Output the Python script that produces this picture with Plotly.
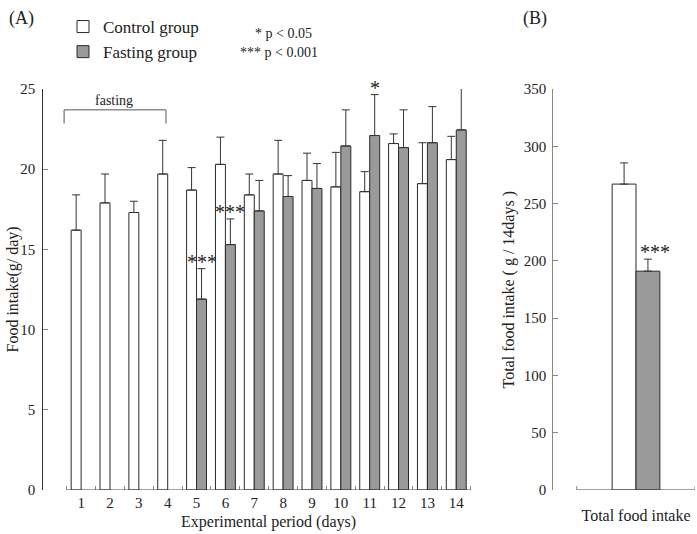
import plotly.graph_objects as go

# ---------------- data ----------------
days = list(range(1, 15))
day_labels = [str(d) for d in days]
control = [16.2, 17.9, 17.3, 19.7, 18.7, 20.3, 18.4, 19.7, 19.3, 18.9, 18.6, 21.6, 19.1, 20.6]
control_err = [2.2, 1.8, 0.7, 2.1, 1.4, 1.7, 1.3, 2.1, 1.7, 2.15, 1.25, 0.6, 2.55, 1.45]
fasting = [None, None, None, None, 11.9, 15.3, 17.4, 18.3, 18.8, 21.45, 22.1, 21.35, 21.65, 22.45]
fasting_err = [None, None, None, None, 1.9, 1.6, 1.9, 1.3, 1.55, 2.25, 2.55, 2.35, 2.25, 2.95]

sig_days = [5, 6, 11]
sig_marks = ["***", "***", "*"]

total_labels = ["Total food intake"]
total_control = [267]
total_control_err = [18.5]
total_fasting = [191]
total_fasting_err = [10.5]
total_sig = ["***"]

fasting_period = [1, 4]

# ---------------- styles ----------------
FONT = "Liberation Serif"
W, H = 697, 534
ML, MR, MT, MB = 0, 0, 89, 44
PLOT_H = H - MT - MB
WHITE = "#ffffff"
GRAY = "#9a9a9a"
EDGE = "#2a2a2a"
ERR = "#333333"


def px_x(p):
    return p / W


def px_y(p):
    return (H - MB - p) / PLOT_H


fig = go.Figure()

fig.add_trace(go.Bar(
    x=days, y=control, name="Control group",
    marker=dict(color=WHITE, line=dict(color=EDGE, width=1)),
    error_y=dict(type="data", array=control_err, arrayminus=[0] * len(days), symmetric=False,
                 color=ERR, thickness=1, width=4),
    xaxis="x", yaxis="y", legendrank=1,
))
fig.add_trace(go.Bar(
    x=days, y=fasting, name="Fasting group",
    marker=dict(color=GRAY, line=dict(color=EDGE, width=1)),
    error_y=dict(type="data", array=fasting_err, arrayminus=[0] * len(days), symmetric=False,
                 color=ERR, thickness=1, width=4),
    xaxis="x", yaxis="y", legendrank=2,
))
fig.add_trace(go.Bar(
    x=total_labels, y=total_control, name="Control group", showlegend=False,
    marker=dict(color=WHITE, line=dict(color=EDGE, width=1)),
    error_y=dict(type="data", array=total_control_err, arrayminus=[0], symmetric=False,
                 color=ERR, thickness=1, width=4),
    xaxis="x2", yaxis="y2",
))
fig.add_trace(go.Bar(
    x=total_labels, y=total_fasting, name="Fasting group", showlegend=False,
    marker=dict(color=GRAY, line=dict(color=EDGE, width=1)),
    error_y=dict(type="data", array=total_fasting_err, arrayminus=[0], symmetric=False,
                 color=ERR, thickness=1, width=4),
    xaxis="x2", yaxis="y2",
))

n = len(days)
# panel A geometry (pixels)
a_left, a_xstart, a_right = 43.3, 66.7, 470.7
cat_px = (a_right - a_xstart) / n
a_range = [0.5 - (a_xstart - a_left) / cat_px, n + 0.5]
# panel B geometry
b_left, b_right = 553.3, 695.0
bargap = 0.31
b_unit = 47.7 / (1 - bargap)
b_center = 636.0
b_range = [(b_left - b_center) / b_unit, (b_right - b_center) / b_unit]
b_line = [(576.7 - b_center) / b_unit, b_range[1]]

axis_font = dict(family=FONT, size=15, color="#222")

fig.update_layout(
    width=W, height=H,
    margin=dict(l=ML, r=MR, t=MT, b=MB, autoexpand=False),
    paper_bgcolor="white", plot_bgcolor="white",
    barmode="group", bargap=bargap, bargroupgap=0,
    font=dict(family=FONT, size=15, color="#222"),
    showlegend=True,
    legend=dict(x=px_x(63), y=px_y(9), xanchor="left", yanchor="top",
                font=dict(family=FONT, size=17, color="#222"),
                bgcolor="rgba(0,0,0,0)", itemclick=False, tracegroupgap=2),
    xaxis=dict(domain=[px_x(a_left), px_x(a_right)], range=a_range, anchor="y",
               tickmode="array", tickvals=days, ticktext=day_labels, ticks="",
               showline=False, showgrid=False, zeroline=False, tickfont=axis_font,
               ticklabelstandoff=2, automargin=False,
               minor=dict(tickmode="array", tickvals=[d + 0.5 for d in [0] + days],
                          ticks="inside", ticklen=4, tickcolor="#888", showgrid=False)),
    yaxis=dict(domain=[0, 1], range=[0, 25], anchor="x", dtick=5, automargin=False,
               ticks="inside", ticklen=5, tickcolor="#888", showline=True, linecolor="#333",
               linewidth=1, showgrid=False, zeroline=False, tickfont=axis_font,
               ticklabelstandoff=4),
    xaxis2=dict(domain=[px_x(b_left), px_x(b_right)], range=b_range, anchor="y2",
                type="category", ticks="", showline=False, showgrid=False, zeroline=False,
                automargin=False,
                tickfont=dict(family=FONT, size=16, color="#222"), ticklabelstandoff=14),
    yaxis2=dict(domain=[0, 1], range=[0, 350], anchor="x2", dtick=50, automargin=False,
                ticks="inside", ticklen=5, tickcolor="#888", showline=True, linecolor="#888",
                linewidth=1, showgrid=False, zeroline=False, tickfont=axis_font,
                ticklabelstandoff=3),
)

shapes = [
    # x axis line panel A
    dict(type="line", xref="x", yref="y", x0=0.5, x1=n + 0.5, y0=0, y1=0,
         line=dict(color="#444", width=1)),
    # x axis line panel B
    dict(type="line", xref="x2", yref="y2", x0=b_line[0], x1=b_line[1], y0=0, y1=0,
         line=dict(color="#444", width=1)),
    dict(type="line", xref="x2", yref="y2", x0=b_line[0], x1=b_line[0], y0=0, y1=3.5,
         line=dict(color="#888", width=1)),
    dict(type="line", xref="x2", yref="y2", x0=b_line[1], x1=b_line[1], y0=0, y1=3.5,
         line=dict(color="#888", width=1)),
    # fasting bracket
    dict(type="path", xref="x", yref="y",
         path=f"M {fasting_period[0] - 0.59},22.85 L {fasting_period[0] - 0.59},23.7 "
              f"L {fasting_period[1] - 0.06},23.7 L {fasting_period[1] - 0.06},22.85",
         line=dict(color="#555", width=1)),
]
fig.update_layout(shapes=shapes)


def txt(text, x, y, size=16, xanchor="center", **kw):
    d = dict(text=text, x=x, y=y, xref="paper", yref="paper", xanchor=xanchor,
             yanchor="middle", showarrow=False, font=dict(family=FONT, size=size, color="#222"))
    d.update(kw)
    return d


ann = [
    txt("(A)", px_x(21), px_y(18), size=18),
    txt("(B)", px_x(535), px_y(18), size=18),
    txt("* p < 0.05", px_x(253), px_y(33), size=14, xanchor="left"),
    txt("*** p < 0.001", px_x(238), px_y(52), size=14, xanchor="left"),
    txt("Experimental period (days)", px_x(268), px_y(522), size=16),
    txt("Food intake(g/ day)", px_x(12), 0.5, size=16, textangle=-90),
    txt("Total food intake ( g / 14days )", px_x(508), 0.5, size=16, textangle=-90),
]
ann.append(dict(text="fasting", x=(fasting_period[0] + fasting_period[1]) / 2 - 0.35, y=24.3,
                xref="x", yref="y", xanchor="center", yanchor="middle", showarrow=False,
                font=dict(family=FONT, size=14, color="#222")))

for d, m in zip(sig_days, sig_marks):
    i = days.index(d)
    ann.append(dict(text=m, x=d, y=fasting[i] + fasting_err[i], xref="x", yref="y",
                    xanchor="center", xshift=5, yanchor="bottom", yshift=-6, showarrow=False,
                    font=dict(family=FONT, size=20, color="#222")))
for lab, v, e, m in zip(total_labels, total_fasting, total_fasting_err, total_sig):
    ann.append(dict(text=m, x=lab, y=v + e, xref="x2", yref="y2", xanchor="center", xshift=19,
                    yanchor="bottom", yshift=-6, showarrow=False,
                    font=dict(family=FONT, size=20, color="#222")))

fig.update_layout(annotations=ann)

fig.write_html("out.html", config={"displayModeBar": False},
               post_script="document.body.style.margin='0';document.body.style.overflow='hidden';")
